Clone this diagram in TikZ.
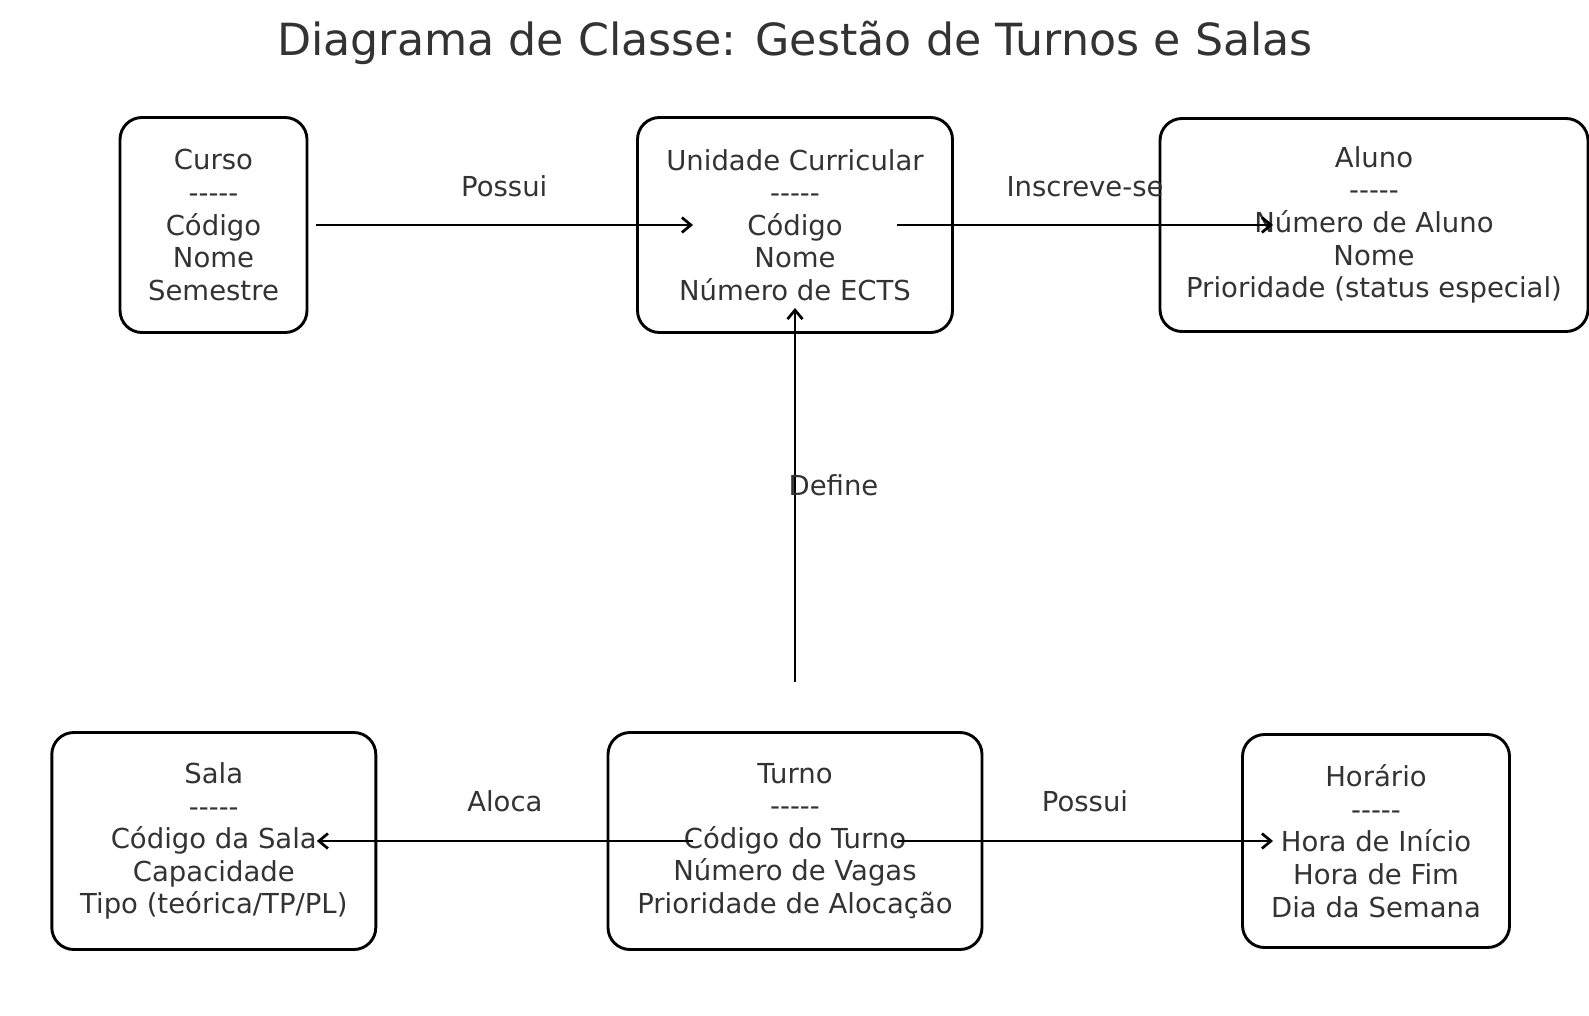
\documentclass[tikz,border=0pt]{standalone}
\usepackage{fontspec}
\setmainfont{DejaVu Sans}
\usetikzlibrary{arrows.meta}
\definecolor{txt}{HTML}{333333}
\begin{document}
\begin{tikzpicture}[x=1pt,y=-1pt,
  cls/.style={draw=black, line width=2.9pt, rounded corners=22pt, text=txt, align=center,
    font=\fontsize{27.5}{32.6}\selectfont, inner sep=0pt},
  arr/.style={-{Straight Barb[length=9pt,width=15pt]}, line width=2.7pt, draw=black},
  lbl/.style={text=txt, font=\fontsize{27.5}{32}\selectfont}]
\useasboundingbox (0,0) rectangle (1589,1015);
\node[text=txt, font=\fontsize{44.3}{50}\selectfont] (title) at (795,42.5) {Diagrama de Classe: Gestão de Turnos e Salas};

\node[cls, minimum width=187pt, minimum height=215pt] (curso) at (213.5,225)
  {Curso\\-{}-{}-{}-{}-\\Código\\Nome\\Semestre};
\node[cls, minimum width=315pt, minimum height=215pt] (uc) at (795,225)
  {Unidade Curricular\\-{}-{}-{}-{}-\\Código\\Nome\\Número de ECTS};
\node[cls, minimum width=428pt, minimum height=213pt] (aluno) at (1374,225)
  {Aluno\\-{}-{}-{}-{}-\\Número de Aluno\\Nome\\Prioridade (status especial)};
\node[cls, minimum width=324pt, minimum height=217pt] (sala) at (213.8,841)
  {Sala\\-{}-{}-{}-{}-\\Código da Sala\\Capacidade\\Tipo (teórica/TP/PL)};
\node[cls, minimum width=374pt, minimum height=217pt] (turno) at (795,841)
  {Turno\\-{}-{}-{}-{}-\\Código do Turno\\Número de Vagas\\Prioridade de Alocação};
\node[cls, minimum width=267pt, minimum height=213pt] (horario) at (1376,841)
  {Horário\\-{}-{}-{}-{}-\\Hora de Início\\Hora de Fim\\Dia da Semana};

\draw[arr] ([xshift=102pt]curso.center) -- node[lbl, midway, yshift=38.5pt] (l1) {Possui} ([xshift=-102pt]uc.center);
\draw[arr] ([xshift=102pt]uc.center) -- node[lbl, midway, yshift=38.5pt] (l2) {Inscreve-se} ([xshift=-101pt]aluno.center);
\draw[arr] ([yshift=159pt]turno.center) -- node[lbl, midway, xshift=38.5pt, yshift=10pt] (l3) {Define} ([yshift=-83pt]uc.center);
\draw[arr] ([xshift=-102pt]turno.center) -- node[lbl, midway, yshift=39.4pt] (l4) {Aloca} ([xshift=103pt]sala.center);
\draw[arr] ([xshift=102pt]turno.center) -- node[lbl, midway, yshift=39.4pt] (l5) {Possui} ([xshift=-103pt]horario.center);
\end{tikzpicture}
\end{document}
